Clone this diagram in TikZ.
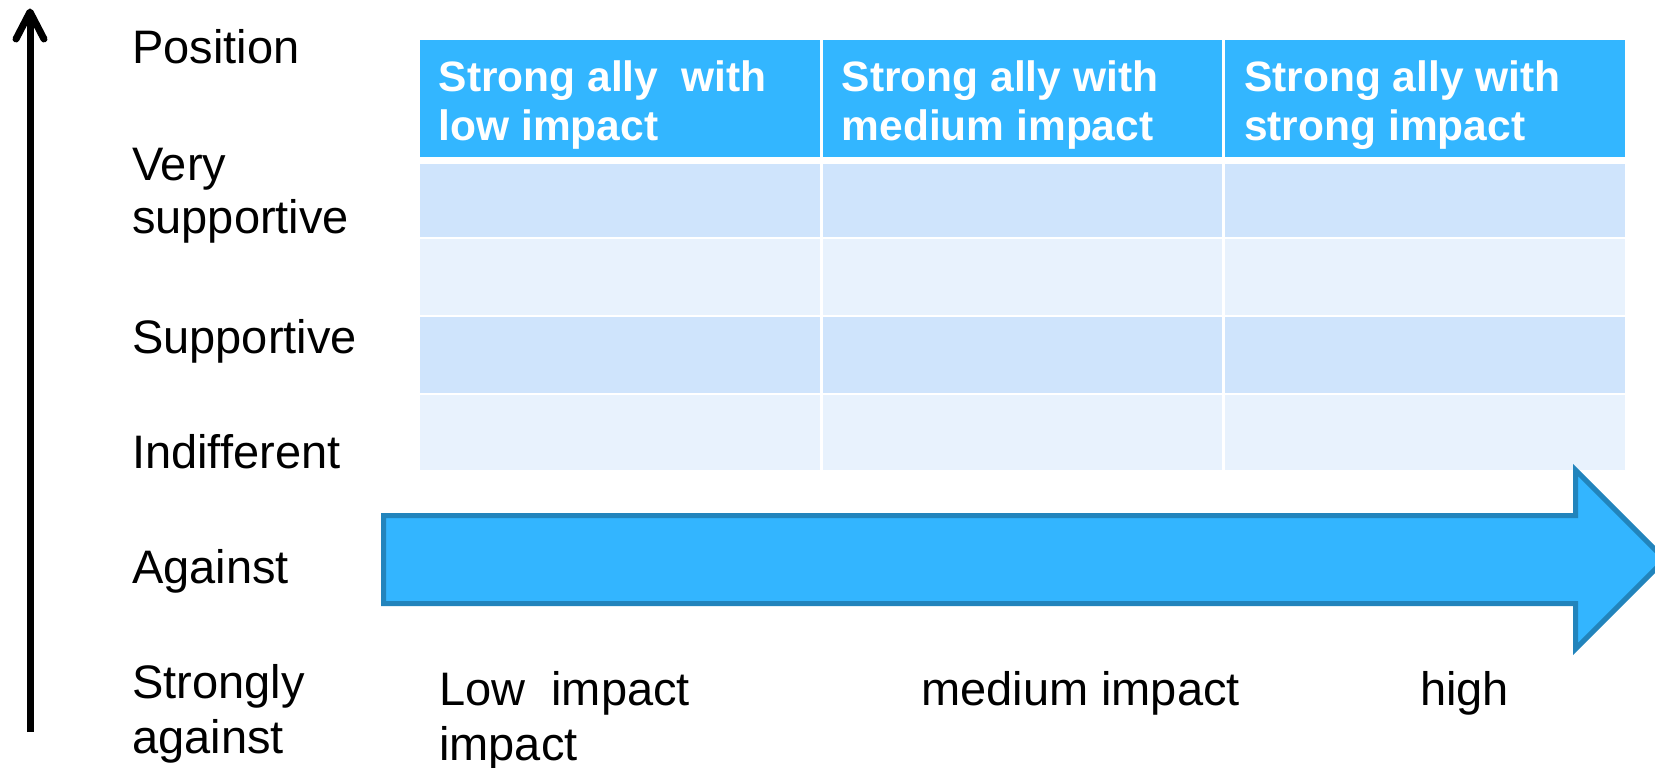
\documentclass[tikz,border=0pt]{standalone}
\usepackage{fontspec}
\setmainfont{Liberation Sans}
\definecolor{hdrblue}{RGB}{51,182,255}
\definecolor{arrfill}{RGB}{51,181,255}
\definecolor{arredge}{RGB}{34,132,188}
\definecolor{rowdark}{RGB}{207,228,252}
\definecolor{rowlight}{RGB}{232,242,253}
\begin{document}
\begin{tikzpicture}[x=1pt,y=-1pt,
  lbl/.style={anchor=base west, inner sep=0pt, align=left, font=\fontsize{47}{54}\selectfont},
  hdr/.style={anchor=base west, inner sep=0pt, align=left, text=white, font=\fontsize{42.5}{49}\selectfont\bfseries},
  axis/.style={line width=7pt, black},
  bigarrow/.style={fill=arrfill, draw=arredge, line width=5pt, line join=miter}]
\useasboundingbox (0,0) rectangle (1655,768);
% table cells
\foreach \xa/\xb in {420/820, 823/1222, 1225/1625}{
  \fill[hdrblue] (\xa,40) rectangle (\xb,157);
  \fill[rowdark] (\xa,164) rectangle (\xb,237);
  \fill[rowlight] (\xa,239) rectangle (\xb,315);
  \fill[rowdark] (\xa,317) rectangle (\xb,393);
  \fill[rowlight] (\xa,395) rectangle (\xb,470);
}
% header texts (anchored at the baseline of their last line)
\node[hdr] (h1) at (438.5,140) {Strong ally\ \ with\\low impact};
\node[hdr] (h2) at (841.5,140) {Strong ally with\\medium impact};
\node[hdr] (h3) at (1244,140) {Strong ally with\\strong impact};
% vertical axis arrow
\coordinate (vbot) at (30,732);
\coordinate (vtop) at (30,12);
\draw[axis] (vbot) -- (vtop);
\draw[axis, line cap=round, line join=round] (vtop) ++(-14,27) -- (vtop) -- ++(14,27);
% big horizontal arrow
\draw[bigarrow] (383.5,515.5) -- (1575.5,515.5) -- (1575.5,470) -- (1665,559.5)
  -- (1575.5,649) -- (1575.5,603.5) -- (383.5,603.5) -- cycle;
% left labels
\node[lbl] (pos) at (132,64) {Position};
\node[lbl, font=\fontsize{47}{53}\selectfont] (vsup) at (132,233) {Very\\supportive};
\node[lbl] (sup) at (132,353) {Supportive};
\node[lbl] (ind) at (132,468) {Indifferent};
\node[lbl] (aga) at (132,583) {Against};
\node[lbl, font=\fontsize{47}{55}\selectfont] (saga) at (132,753) {Strongly\\against};
% bottom labels
\node[lbl, font=\fontsize{47}{55}\selectfont] (low) at (439,760) {Low\ \ impact\\impact};
\node[lbl] (med) at (921,705) {medium impact};
\node[lbl] (high) at (1420,705) {high};
\end{tikzpicture}
\end{document}
